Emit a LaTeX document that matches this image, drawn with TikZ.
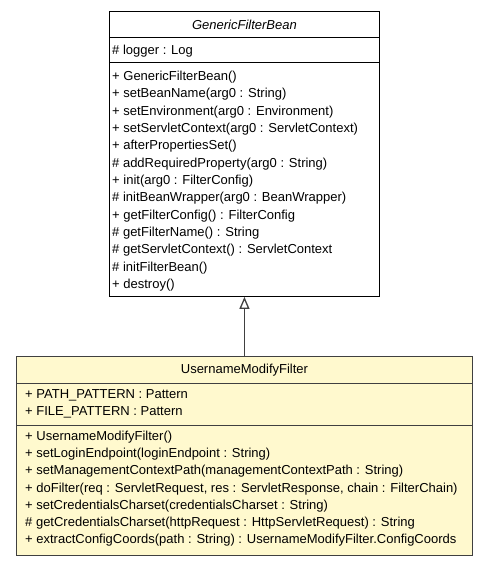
\documentclass[tikz,border=0pt]{standalone}
\usepackage{fontspec}
\setmainfont{Liberation Sans}
\usetikzlibrary{arrows.meta}
\definecolor{notefill}{RGB}{255,249,206}
\definecolor{linegray}{RGB}{64,64,64}

\begin{document}
\begin{tikzpicture}[x=1pt,y=-1pt,
  every node/.style={font=\fontsize{13}{15}\selectfont},
  compart/.style={draw,anchor=north west,inner sep=0pt,line width=0.9pt},
  member/.style={anchor=base west,inner sep=0pt},
  extends/.style={draw=linegray,line width=1.3pt,-{Triangle[open,length=12pt,width=10pt,fill=white]}}]
\useasboundingbox (0,0) rectangle (488,565);
% superclass
\node[compart,fill=white,minimum width=270pt,minimum height=26pt] (beanhead) at (109,11) {\itshape GenericFilterBean};
\node[compart,fill=white,minimum width=270pt,minimum height=25pt] (beanattr) at (109,37) {};
\node[compart,fill=white,minimum width=270pt,minimum height=234pt] (beanops) at (109,62) {};
\node[member] (beanfld) at (112,54.5) {\# logger : Log};
\foreach \txt [count=\i from 0] in {+ GenericFilterBean(),+ setBeanName(arg0 : String),
  + setEnvironment(arg0 : Environment),+ setServletContext(arg0 : ServletContext),
  + afterPropertiesSet(),\# addRequiredProperty(arg0 : String),+ init(arg0 : FilterConfig),
  \# initBeanWrapper(arg0 : BeanWrapper),+ getFilterConfig() : FilterConfig,
  \# getFilterName() : String,\# getServletContext() : ServletContext,
  \# initFilterBean(),+ destroy()}
  \node[member] (beanop\i) at (112,80.5+17.33*\i) {\txt};
% subclass
\node[compart,draw=linegray,fill=notefill,minimum width=456pt,minimum height=27pt] (filterhead) at (16,356) {UsernameModifyFilter};
\node[compart,draw=linegray,fill=notefill,minimum width=456pt,minimum height=42pt] (filterattr) at (16,383) {};
\node[compart,draw=linegray,fill=notefill,minimum width=456pt,minimum height=130pt] (filterops) at (16,425) {};
\node[member] (filterfld0) at (25,398.8) {+ PATH\_PATTERN : Pattern};
\node[member] (filterfld1) at (25,415.5) {+ FILE\_PATTERN : Pattern};
\foreach \txt [count=\i from 0] in {+ UsernameModifyFilter(),
  + setLoginEndpoint(loginEndpoint : String),
  + setManagementContextPath(managementContextPath : String),
  {+ doFilter(req : ServletRequest, res : ServletResponse, chain : FilterChain)},
  + setCredentialsCharset(credentialsCharset : String),
  \# getCredentialsCharset(httpRequest : HttpServletRequest) : String,
  + extractConfigCoords(path : String) : UsernameModifyFilter.ConfigCoords}
  \node[member] (filterop\i) at (25,440.5+17.2*\i) {\txt};
% generalisation
\draw[extends] (filterhead.north) -- (beanops.south);
\end{tikzpicture}
\end{document}
